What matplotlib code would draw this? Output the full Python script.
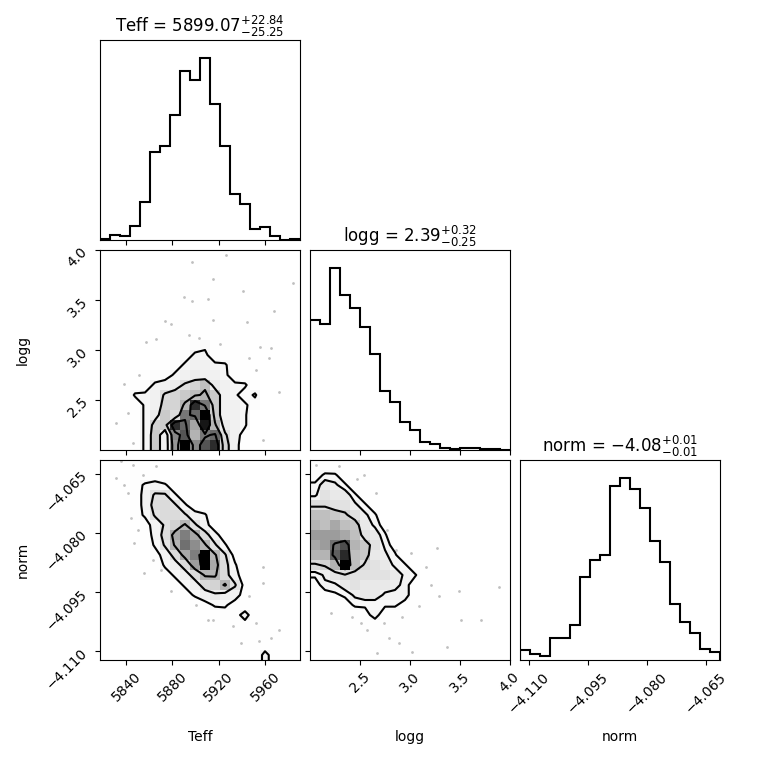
import numpy as np
import matplotlib
matplotlib.use("Agg")
import matplotlib.pyplot as plt
from matplotlib.colors import LinearSegmentedColormap

# parameter names, ranges and titles
labels = ["Teff", "logg", "norm"]
ranges = [(5817.5, 5990.0), (2.002, 4.004), (-4.1122, -4.0615)]
titles = [r"Teff = $5899.07_{-25.25}^{+22.84}$",
          r"logg = $2.39_{-0.25}^{+0.32}$",
          r"norm = $-4.08_{-0.01}^{+0.01}$"]

teff_ticks = [5840, 5880, 5920, 5960]
teff_ticklabels = ["5840", "5880", "5920", "5960"]
logg_ticks = [2.5, 3.0, 3.5, 4.0]
logg_ticklabels = ["2.5", "3.0", "3.5", "4.0"]
norm_ticks = [-4.110, -4.095, -4.080, -4.065]
norm_ticklabels = ["\u22124.110", "\u22124.095", "\u22124.080", "\u22124.065"]

# 1D histogram counts (20 bins each)
teff_counts = [2, 15, 12, 42, 114, 262, 280, 372, 505, 477, 543, 405, 281, 137, 109, 32, 39, 12, 0, 4]
logg_counts = [390, 376, 544, 463, 426, 367, 286, 178, 144, 85, 61, 25, 17, 6, 2, 6, 6, 2, 2, 1]
norm_counts = [30, 18, 12, 66, 66, 106, 248, 300, 315, 521, 543, 510, 455, 354, 294, 168, 112, 82, 34, 25]

# 2D histogram counts, rows listed from the top of the panel down
teff_logg_grid = [
    [0, 0, 0, 0, 0, 0, 0, 0, 0, 0, 0, 0, 0, 0, 0, 0, 0, 0, 0, 0],
    [0, 0, 0, 0, 0, 0, 0, 0, 0, 0, 0, 0, 0, 0, 0, 0, 0, 0, 0, 0],
    [0, 0, 0, 0, 0, 0, 0, 0, 1, 0, 0, 0, 0, 0, 0, 0, 0, 0, 0, 0],
    [0, 0, 0, 0, 0, 0, 0, 0, 0, 0, 0, 0, 0, 0, 0, 0, 0, 0, 0, 0],
    [0, 0, 0, 0, 0, 0, 0, 0, 1, 0, 0, 1, 0, 0, 0, 0, 0, 0, 0, 0],
    [0, 0, 0, 0, 0, 0, 0, 0, 0, 1, 0, 0, 0, 0, 0, 0, 0, 0, 0, 0],
    [0, 0, 0, 0, 0, 0, 0, 0, 1, 0, 0, 1, 0, 0, 1, 0, 0, 0, 0, 0],
    [0, 0, 0, 0, 0, 0, 0, 1, 1, 0, 1, 0, 1, 0, 0, 0, 0, 0, 0, 0],
    [0, 0, 0, 0, 0, 0, 1, 1, 1, 1, 1, 1, 0, 1, 0, 1, 0, 0, 0, 0],
    [0, 0, 0, 0, 0, 1, 1, 1, 1, 2, 3, 1, 1, 1, 1, 1, 1, 0, 0, 0],
    [0, 0, 0, 0, 0, 0, 1, 1, 2, 4, 4, 2, 1, 1, 1, 0, 0, 0, 0, 0],
    [0, 0, 0, 0, 0, 1, 1, 2, 4, 5, 5, 4, 4, 1, 1, 1, 0, 0, 0, 0],
    [0, 0, 0, 0, 1, 2, 2, 4, 5, 6, 5, 5, 4, 2, 1, 0, 0, 0, 0, 0],
    [0, 0, 0, 1, 2, 4, 5, 6, 8, 9, 11, 6, 5, 4, 4, 1, 0, 0, 0, 0],
    [0, 0, 0, 4, 4, 5, 8, 9, 10, 11, 12, 10, 5, 4, 2, 4, 0, 0, 0, 0],
    [0, 0, 0, 1, 4, 5, 9, 9, 12, 20, 16, 10, 5, 5, 4, 2, 0, 0, 0, 0],
    [0, 0, 0, 1, 4, 6, 10, 8, 16, 17, 22, 10, 5, 5, 4, 0, 0, 0, 0, 0],
    [0, 0, 0, 1, 4, 9, 10, 20, 17, 13, 21, 12, 6, 5, 4, 0, 0, 0, 0, 0],
    [0, 0, 0, 1, 4, 10, 5, 15, 18, 12, 16, 17, 8, 5, 2, 0, 0, 0, 0, 0],
    [0, 0, 0, 1, 4, 10, 5, 14, 22, 15, 18, 20, 9, 5, 1, 0, 0, 0, 0, 0],
]

teff_norm_grid = [
    [0, 1, 1, 1, 0, 0, 0, 0, 0, 0, 0, 0, 0, 0, 0, 0, 0, 0, 0, 0],
    [0, 0, 1, 2, 1, 1, 0, 0, 0, 0, 0, 0, 0, 0, 0, 0, 0, 0, 0, 0],
    [0, 0, 0, 2, 4, 5, 4, 1, 0, 0, 0, 0, 0, 0, 0, 0, 0, 0, 0, 0],
    [0, 0, 0, 1, 5, 8, 8, 4, 1, 0, 0, 0, 0, 0, 0, 0, 0, 0, 0, 0],
    [0, 0, 0, 1, 5, 9, 9, 8, 4, 1, 0, 0, 0, 0, 0, 0, 0, 0, 0, 0],
    [0, 0, 0, 2, 4, 8, 9, 9, 8, 5, 4, 0, 0, 0, 0, 0, 0, 0, 0, 0],
    [0, 0, 0, 0, 2, 5, 8, 10, 13, 8, 5, 1, 0, 0, 0, 0, 0, 0, 0, 0],
    [0, 0, 0, 0, 1, 5, 9, 14, 17, 14, 9, 5, 1, 0, 0, 0, 0, 0, 0, 0],
    [0, 0, 0, 0, 1, 4, 8, 13, 18, 16, 13, 8, 4, 0, 0, 0, 0, 0, 0, 0],
    [0, 0, 0, 0, 0, 2, 5, 9, 14, 17, 24, 13, 8, 2, 0, 0, 0, 0, 0, 0],
    [0, 0, 0, 0, 0, 1, 4, 6, 9, 15, 24, 14, 9, 4, 0, 0, 0, 0, 0, 0],
    [0, 0, 0, 0, 0, 0, 2, 4, 6, 9, 13, 13, 9, 5, 1, 0, 0, 0, 0, 0],
    [0, 0, 0, 0, 0, 0, 0, 2, 4, 6, 9, 10, 13, 8, 2, 0, 0, 0, 0, 0],
    [0, 0, 0, 0, 0, 0, 0, 0, 2, 4, 6, 7, 6, 5, 2, 0, 0, 0, 0, 0],
    [0, 0, 0, 0, 0, 0, 0, 0, 0, 1, 2, 4, 4, 2, 1, 0, 0, 0, 0, 0],
    [0, 0, 0, 0, 0, 0, 0, 0, 0, 0, 1, 1, 2, 2, 5, 1, 0, 0, 0, 0],
    [0, 0, 0, 0, 0, 0, 0, 0, 0, 0, 0, 1, 0, 1, 2, 1, 1, 0, 0, 0],
    [0, 0, 0, 0, 0, 0, 0, 0, 0, 0, 0, 0, 0, 1, 1, 1, 1, 1, 0, 0],
    [0, 0, 0, 0, 0, 0, 0, 0, 0, 0, 0, 0, 0, 1, 0, 1, 1, 0, 0, 0],
    [0, 0, 0, 0, 0, 0, 0, 0, 0, 0, 0, 0, 0, 0, 0, 0, 5, 1, 0, 0],
]

logg_norm_grid = [
    [1, 1, 0, 1, 0, 0, 0, 0, 0, 0, 0, 0, 0, 0, 0, 0, 0, 0, 0, 0],
    [2, 4, 4, 1, 0, 1, 0, 0, 0, 0, 0, 0, 0, 0, 0, 0, 0, 0, 0, 0],
    [4, 7, 6, 4, 1, 0, 0, 0, 0, 0, 0, 0, 0, 0, 0, 0, 0, 0, 0, 0],
    [5, 8, 7, 7, 4, 1, 0, 0, 0, 0, 0, 0, 0, 0, 0, 0, 0, 0, 0, 0],
    [9, 9, 8, 8, 6, 4, 1, 0, 0, 0, 0, 0, 0, 0, 0, 0, 0, 0, 0, 0],
    [12, 12, 11, 10, 8, 6, 4, 0, 0, 0, 0, 0, 0, 0, 0, 0, 0, 0, 0, 0],
    [13, 12, 14, 12, 11, 7, 5, 2, 0, 0, 0, 0, 0, 0, 0, 0, 0, 0, 0, 0],
    [15, 15, 15, 14, 12, 8, 7, 4, 0, 0, 0, 0, 0, 0, 0, 0, 0, 0, 0, 0],
    [14, 15, 18, 20, 13, 11, 8, 5, 2, 0, 0, 0, 0, 0, 0, 0, 0, 0, 0, 0],
    [13, 13, 19, 22, 12, 11, 7, 6, 4, 0, 0, 0, 0, 0, 0, 0, 0, 0, 0, 0],
    [9, 10, 13, 24, 12, 9, 8, 7, 5, 4, 0, 0, 0, 0, 0, 0, 0, 0, 0, 0],
    [4, 6, 8, 9, 8, 8, 8, 8, 7, 5, 4, 0, 0, 0, 0, 0, 0, 0, 0, 0],
    [2, 5, 5, 7, 8, 7, 7, 7, 6, 5, 1, 0, 0, 0, 0, 0, 0, 0, 0, 0],
    [1, 2, 3, 4, 6, 7, 7, 5, 5, 5, 1, 0, 0, 0, 0, 0, 0, 0, 0, 0],
    [0, 0, 1, 2, 4, 4, 4, 4, 4, 2, 1, 0, 0, 0, 0, 0, 0, 0, 0, 0],
    [0, 0, 0, 1, 1, 2, 5, 1, 1, 1, 0, 1, 0, 0, 0, 0, 0, 0, 0, 0],
    [0, 0, 0, 0, 1, 1, 1, 1, 1, 1, 0, 0, 0, 1, 0, 0, 0, 0, 0, 0],
    [0, 0, 0, 0, 0, 1, 1, 1, 1, 0, 1, 0, 0, 0, 1, 0, 0, 0, 0, 0],
    [0, 0, 0, 0, 0, 0, 1, 1, 1, 0, 1, 0, 0, 0, 0, 0, 0, 0, 0, 0],
    [0, 0, 0, 0, 0, 0, 0, 0, 1, 0, 0, 0, 1, 0, 0, 0, 0, 0, 0, 0],
]

# contour heights (in histogram counts) for each 2D panel
teff_logg_levels = [3.5, 7.5, 11.5, 16.5]
teff_norm_levels = [3.5, 7.5, 12.5, 20.0]
logg_norm_levels = [3.5, 5.5, 9.5, 17.5]

# stray samples outside the contours
tl_teff = [5896.9, 5914.7, 5940.5, 5890.2, 5896.9, 5911.0, 5967.9, 5984.2, 5873.9, 5878.7,
           5914.7, 5944.3, 5894.5, 5903.2, 5921.0, 5865.8, 5857.2, 5955.5, 5965.0, 5945.7,
           5952.0, 5963.5, 5972.2, 5838.5, 5851.4, 5841.4, 5831.3, 5845.7, 5957.8, 5926.2]
tl_logg = [3.88, 3.71, 3.59, 3.53, 3.49, 3.51, 3.39, 3.67, 3.29, 3.26,
           3.30, 3.28, 3.15, 3.12, 3.06, 3.11, 3.08, 3.03, 3.02, 2.92,
           2.80, 2.92, 2.58, 2.66, 2.75, 2.37, 2.27, 2.07, 2.10, 3.95]

tn_teff = [5835.6, 5845.7, 5865.8, 5831.3, 5838.5, 5841.4, 5844.2, 5850.0, 5847.1, 5862.9,
           5855.7, 5870.1, 5878.7, 5900.3, 5910.4, 5914.7, 5957.8, 5957.8, 5946.3, 5952.0,
           5931.9, 5939.1, 5954.9, 5965.0, 5972.2, 5854.3]
tn_norm = [-4.0618, -4.0627, -4.0631, -4.0661, -4.0678, -4.0699, -4.0762, -4.0792, -4.0826, -4.0868,
           -4.0902, -4.0893, -4.0948, -4.0982, -4.1020, -4.1020, -4.0885, -4.0927, -4.0961, -4.1029,
           -4.1037, -4.1079, -4.1075, -4.1067, -4.1046, -4.0652]

ln_logg = [2.293, 2.543, 2.477, 2.660, 2.777, 2.860, 3.010, 3.277, 3.160, 3.210,
           3.493, 3.893, 3.293, 3.093, 2.927, 2.743, 2.510, 2.427, 2.577, 2.793,
           2.893, 3.027, 2.677, 3.377, 3.510, 3.710, 2.210, 2.060]
ln_norm = [-4.0631, -4.0652, -4.0663, -4.0699, -4.0792, -4.0843, -4.0851, -4.0838, -4.0885, -4.0931,
           -4.0948, -4.0936, -4.0961, -4.0986, -4.1012, -4.1029, -4.1029, -4.1012, -4.1046, -4.1067,
           -4.1079, -4.1101, -4.1105, -4.1088, -4.1020, -4.1020, -4.1003, -4.0627]

density_cmap = LinearSegmentedColormap.from_list("density_cmap", ["k", (1, 1, 1, 0)])
white_cmap = LinearSegmentedColormap.from_list("white_cmap", [(1, 1, 1), (1, 1, 1)], N=2)


def draw_2d(ax, grid, xr, yr, px, py, V):
    H = np.flipud(np.array(grid, dtype=float)).T
    nx, ny = H.shape
    X = np.linspace(xr[0], xr[1], nx + 1)
    Y = np.linspace(yr[0], yr[1], ny + 1)

    # pad the histogram so the contours close at the panel edges
    X1, Y1 = 0.5 * (X[1:] + X[:-1]), 0.5 * (Y[1:] + Y[:-1])
    H2 = H.min() + np.zeros((nx + 4, ny + 4))
    H2[2:-2, 2:-2] = H
    H2[2:-2, 1] = H[:, 0]
    H2[2:-2, -2] = H[:, -1]
    H2[1, 2:-2] = H[0]
    H2[-2, 2:-2] = H[-1]
    H2[1, 1] = H[0, 0]
    H2[1, -2] = H[0, -1]
    H2[-2, 1] = H[-1, 0]
    H2[-2, -2] = H[-1, -1]
    X2 = np.concatenate([X1[0] + np.array([-2, -1]) * np.diff(X1[:2]), X1,
                         X1[-1] + np.array([1, 2]) * np.diff(X1[-2:])])
    Y2 = np.concatenate([Y1[0] + np.array([-2, -1]) * np.diff(Y1[:2]), Y1,
                         Y1[-1] + np.array([1, 2]) * np.diff(Y1[-2:])])

    ax.plot(px, py, "o", color="k", ms=2.0, mec="none", alpha=0.25, zorder=-1)
    ax.contourf(X2, Y2, H2.T, [min(V), H.max()], cmap=white_cmap, antialiased=False)
    ax.pcolor(X, Y, H.max() - H.T, cmap=density_cmap)
    ax.contour(X2, Y2, H2.T, V, colors="k", linewidths=1.5)
    ax.set_xlim(xr)
    ax.set_ylim(yr)


def draw_1d(ax, counts, xr, title):
    edges = np.linspace(xr[0], xr[1], len(counts) + 1)
    centers = 0.5 * (edges[1:] + edges[:-1])
    ax.hist(centers, bins=edges, weights=counts, histtype="step", color="k", linewidth=1.5)
    ax.set_xlim(xr)
    ax.set_ylim(0, 1.1 * max(counts))
    ax.set_yticks([])
    ax.set_title(title, fontsize=12)


ticks = [teff_ticks, logg_ticks, norm_ticks]
ticklabels = [teff_ticklabels, logg_ticklabels, norm_ticklabels]

fig, axes = plt.subplots(3, 3, figsize=(7.6, 7.6), dpi=100)
lb = 1.0 / 7.6
tr = 7.2 / 7.6
fig.subplots_adjust(left=lb, bottom=lb, right=tr, top=tr, wspace=0.05, hspace=0.05)

for i in range(3):
    for j in range(3):
        if j > i:
            axes[i, j].set_frame_on(False)
            axes[i, j].set_xticks([])
            axes[i, j].set_yticks([])

draw_1d(axes[0, 0], teff_counts, ranges[0], titles[0])
draw_1d(axes[1, 1], logg_counts, ranges[1], titles[1])
draw_1d(axes[2, 2], norm_counts, ranges[2], titles[2])

draw_2d(axes[1, 0], teff_logg_grid, ranges[0], ranges[1], tl_teff, tl_logg, teff_logg_levels)
draw_2d(axes[2, 0], teff_norm_grid, ranges[0], ranges[2], tn_teff, tn_norm, teff_norm_levels)
draw_2d(axes[2, 1], logg_norm_grid, ranges[1], ranges[2], ln_logg, ln_norm, logg_norm_levels)

for i in range(3):
    for j in range(i + 1):
        ax = axes[i, j]
        ax.set_xticks(ticks[j])
        if i < 2:
            ax.set_xticklabels([])
        else:
            ax.set_xticklabels(ticklabels[j], rotation=45)
            ax.set_xlabel(labels[j], fontsize=10)
            ax.xaxis.set_label_coords(0.5, -0.35)
        if j < i:
            ax.set_yticks(ticks[i])
            if j > 0:
                ax.set_yticklabels([])
            else:
                ax.set_yticklabels(ticklabels[i], rotation=45)
                ax.set_ylabel(labels[i], fontsize=10)
                ax.yaxis.set_label_coords(-0.35, 0.5)
        ax.tick_params(labelsize=10)

fig.savefig("out.png", dpi=100)
